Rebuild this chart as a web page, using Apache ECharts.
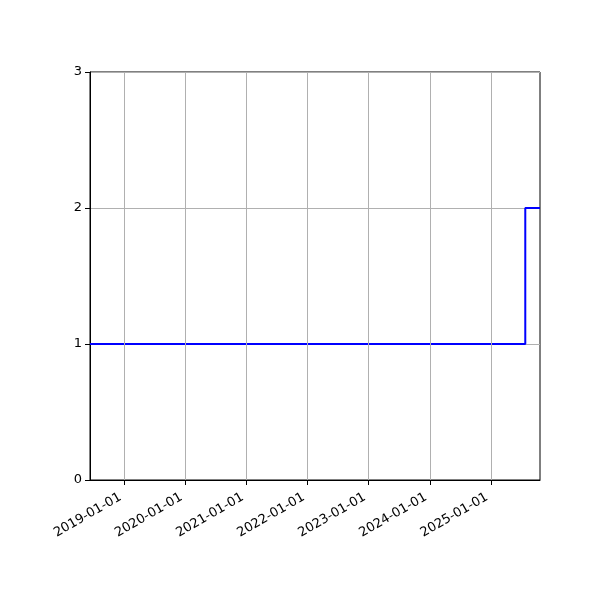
<!DOCTYPE html>
<html><head><meta charset="utf-8">
<script src="https://cdn.jsdelivr.net/npm/echarts@6/dist/echarts.min.js"></script>
<style>html,body{margin:0;padding:0;background:#fff}#c{width:600px;height:600px}</style>
</head><body><div id="c"></div>
<script>
const stepDates = ['2018-06-10', '2025-07-25', '2025-10-21'];
const stepValues = [1, 2, 2];
const xTickDates = ['2019-01-01','2020-01-01','2021-01-01','2022-01-01','2023-01-01','2024-01-01','2025-01-01'];
const yTicks = [0, 1, 2, 3];
const xRange = ['2018-06-10', '2025-10-21'];

const ts = d => Date.parse(d + 'T00:00:00Z');
const xTickTs = xTickDates.map(ts);
const fmt = v => new Date(v).toISOString().slice(0, 10);
const chart = echarts.init(document.getElementById('c'));
const font = 'DejaVu Sans';
chart.setOption({
  animation: false,
  grid: {left: 90, right: 60, top: 72, bottom: 120, show: true, borderColor: '#000', borderWidth: 1, backgroundColor: 'transparent'},
  xAxis: {
    type: 'value', min: ts(xRange[0]), max: ts(xRange[1]),
    axisLine: {show: true, lineStyle: {color: '#000', width: 1}},
    axisTick: {show: true, customValues: xTickTs, length: 5, lineStyle: {color: '#000'}},
    axisLabel: {customValues: xTickTs, rotate: 30, margin: 14, padding: [0, 4.5, 0, 0], color: '#000', fontFamily: font, fontSize: 13,
      formatter: v => fmt(v)},
    splitLine: {show: false}
  },
  yAxis: {
    type: 'value', min: yTicks[0], max: yTicks[yTicks.length-1], interval: 1,
    axisLine: {show: true, lineStyle: {color: '#000', width: 1}},
    axisTick: {show: true, length: 5, lineStyle: {color: '#000'}},
    axisLabel: {margin: 8, color: '#000', fontFamily: font, fontSize: 13},
    splitLine: {show: true, lineStyle: {color: '#b0b0b0', width: 1}}
  },
  series: [
    {type: 'line', z: 1, data: [], silent: true,
      markLine: {silent: true, symbol: 'none', label: {show: false},
        lineStyle: {color: '#b0b0b0', width: 1, type: 'solid'},
        data: xTickTs.map(t => ({xAxis: t}))}},
    {type: 'line', z: 3, step: 'end', showSymbol: false, symbol: 'none',
      lineStyle: {color: '#0000ff', width: 2},
      data: stepDates.map((d, i) => [ts(d), stepValues[i]])}
  ]
});
</script></body></html>
